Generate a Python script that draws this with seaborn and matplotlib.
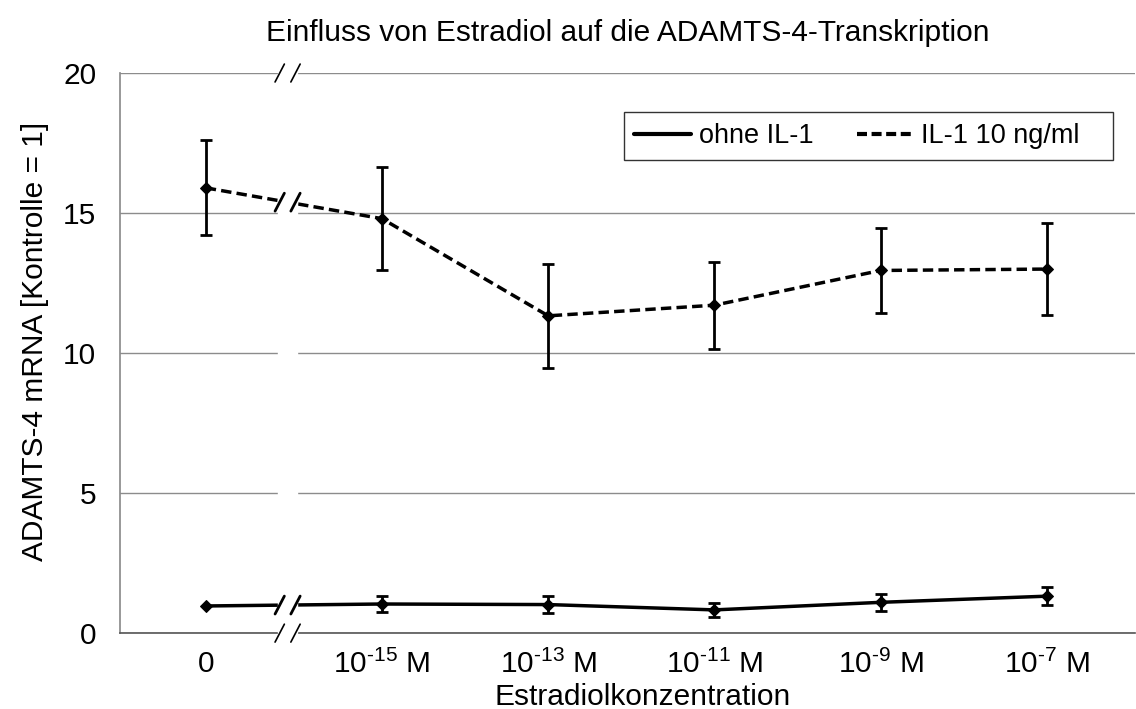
import numpy as np
import pandas as pd
import matplotlib
matplotlib.use("Agg")
import matplotlib.pyplot as plt
from matplotlib.lines import Line2D
import seaborn as sns

# ---- data ----
categories = ["0", r"$10^{\text{-15}}$ M", r"$10^{\text{-13}}$ M", r"$10^{\text{-11}}$ M",
              r"$10^{\text{-9}}$ M", r"$10^{\text{-7}}$ M"]
x_pos = [-1.06, 0, 1, 2, 3, 4]
ohne_il1 = [0.97, 1.04, 1.02, 0.83, 1.10, 1.32]
ohne_il1_err = [0.0, 0.28, 0.30, 0.25, 0.30, 0.33]
il1_10 = [15.90, 14.80, 11.33, 11.71, 12.95, 13.00]
il1_10_err = [1.70, 1.85, 1.85, 1.55, 1.52, 1.65]
series_names = ["ohne IL-1", "IL-1 10 ng/ml"]

sns.set_theme(style="white")
plt.rcParams['font.family'] = ['Liberation Sans', 'DejaVu Sans']
plt.rcParams['mathtext.fontset'] = 'custom'
plt.rcParams['mathtext.rm'] = 'Liberation Sans'
plt.rcParams['mathtext.it'] = 'Liberation Sans:italic'
plt.rcParams['mathtext.default'] = 'regular'
plt.rcParams['text.color'] = 'black'
plt.rcParams['axes.labelcolor'] = 'black'
plt.rcParams['xtick.color'] = 'black'
plt.rcParams['ytick.color'] = 'black'

fig = plt.figure(figsize=(11.36, 7.09), dpi=100)
ax = fig.add_axes([0.1056, 0.107, 0.8935, 0.790])

df = pd.DataFrame({
    "x": x_pos * 2,
    "y": ohne_il1 + il1_10,
    "err": ohne_il1_err + il1_10_err,
    "series": [series_names[0]] * 6 + [series_names[1]] * 6,
})

sns.lineplot(data=df, x="x", y="y", hue="series", style="series",
             palette=["black", "black"], dashes=[(None, None), (3, 1.5)],
             markers=["D", "D"], markersize=6, markeredgecolor="black",
             linewidth=2.5, ax=ax, zorder=4, sort=False, legend=False)

eb = df[df.err > 0]
ax.errorbar(eb.x, eb.y, yerr=eb.err, fmt="none", ecolor="black",
            elinewidth=2, capsize=4.5, capthick=2, zorder=4)

ax.set_xlim(-1.576, 4.53)
ax.set_ylim(0, 20)
ax.set_yticks([0, 5, 10, 15, 20])
ax.set_xticks(x_pos)
ax.set_xticklabels(categories)
ax.yaxis.grid(True, color="#8c8c8c", linewidth=1)
ax.xaxis.grid(False)
for s in ["top", "right"]:
    ax.spines[s].set_visible(False)
ax.spines["left"].set_color("#8c8c8c")
ax.spines["bottom"].set_color("#555555")
ax.spines["bottom"].set_linewidth(1.2)
ax.tick_params(axis="y", labelsize=21.5, length=0, pad=17)
ax.tick_params(axis="x", labelsize=21.5, length=0, pad=12)

ax.set_xlabel("Estradiolkonzentration", fontsize=21.5, labelpad=3, x=0.515)
ax.set_ylabel("ADAMTS-4 mRNA [Kontrolle = 1]", fontsize=21.5, labelpad=10, y=0.52)
ax.set_title("Einfluss von Estradiol auf die ADAMTS-4-Transkription", fontsize=21.5, pad=23)

# ---- axis break ----
b1, b2 = -0.625, -0.51
ax.axvspan(b1, b2, color="white", zorder=5, clip_on=False)
dx, dy = 0.028, 0.32
def slash_pair(yv, lw):
    for xb in (b1 + 0.01, b2 - 0.01):
        ax.plot([xb - dx, xb + dx], [yv - dy, yv + dy], color="black",
                linewidth=lw, zorder=6, clip_on=False)
for yv in (0, 20):
    slash_pair(yv, 1.2)
for vals in (ohne_il1, il1_10):
    xm = (b1 + b2) / 2
    t = (xm - x_pos[0]) / (x_pos[1] - x_pos[0])
    slash_pair(vals[0] + t * (vals[1] - vals[0]), 2)

handles = [Line2D([], [], color="black", linewidth=3),
           Line2D([], [], color="black", linewidth=3, dashes=(2.4, 1.1))]
labels = [series_names[0], series_names[1] + "\u00a0\u00a0\u00a0"]
leg = ax.legend(handles, labels, loc="upper right", bbox_to_anchor=(0.978, 0.93), ncol=2,
                fontsize=19.5, frameon=True, fancybox=False, edgecolor="black",
                handlelength=2.1, columnspacing=1.6, handletextpad=0.27,
                borderpad=0.4, borderaxespad=0)
leg.get_frame().set_linewidth(1)
leg.set_zorder(7)

fig.savefig("out.png", dpi=100)
